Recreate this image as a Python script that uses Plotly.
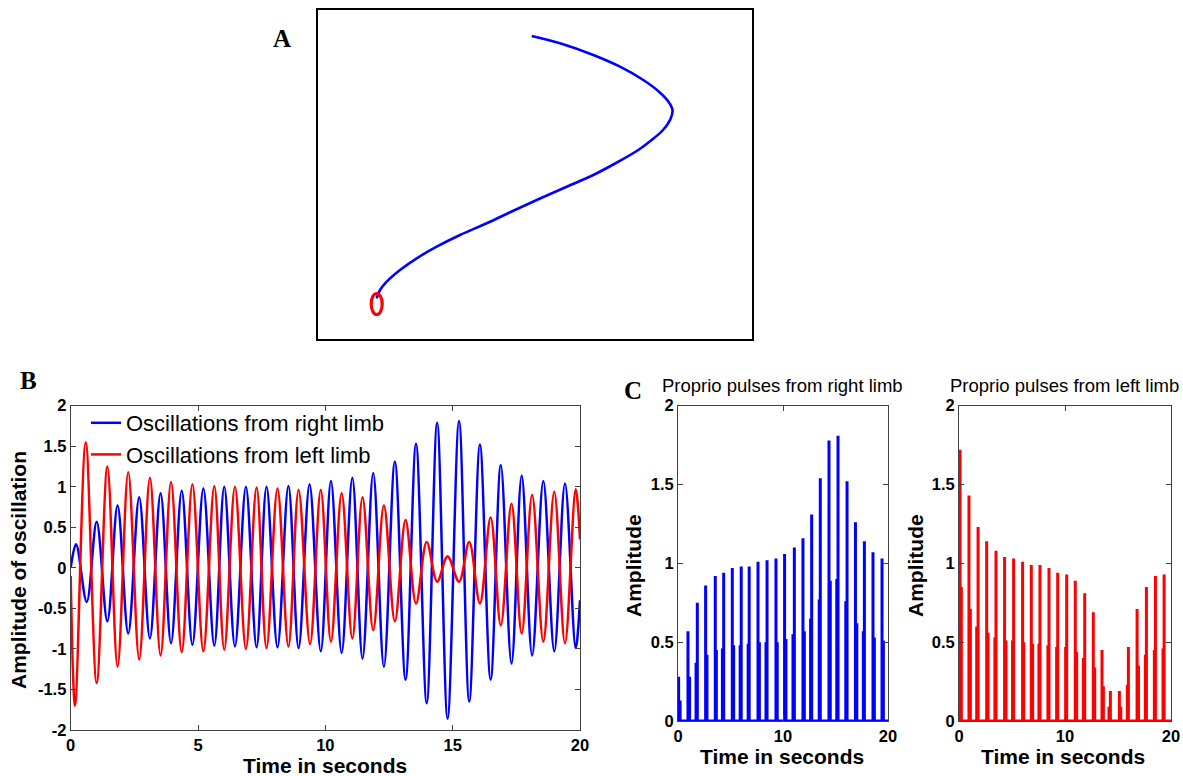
import plotly.graph_objects as go

W, H = 1183, 776

# ---------------- Panel A: limb trajectory (arbitrary planar units) ----------------
traj_x = [213.7, 242.0, 275.3, 302.0, 325.3, 341.0, 350.5, 354.5, 352.5, 345.0, 333.0, 320.3,
          295.3, 275.3, 248.7, 222.0, 195.3, 168.7, 142.0, 118.7, 98.7, 82.0, 68.7, 62.0, 58.7]
traj_y = [303.0, 295.7, 284.0, 272.3, 259.0, 247.3, 237.3, 229.0, 220.0, 209.0, 198.5, 189.0,
          174.5, 164.0, 152.3, 140.5, 128.3, 115.7, 104.0, 92.3, 80.7, 69.0, 57.3, 49.0, 40.7]
start_marker = dict(cx=58.7, cy=35.0, rx=5.5, ry=10.5)

# ---------------- Panel B: oscillations (peaks / troughs) ----------------
right_t = [0, 0.21, 0.63, 1.02, 1.44, 1.84, 2.26, 2.69, 3.11, 3.53, 3.94, 4.36, 4.78, 5.21,
           5.64, 6.03, 6.45, 6.88, 7.3, 7.69, 8.12, 8.55, 8.95, 9.38, 9.82, 10.22, 10.64,
           11.06, 11.46, 11.88, 12.3, 12.73, 13.15, 13.56, 13.98, 14.39, 14.8, 15.25, 15.65,
           16.07, 16.49, 16.89, 17.31, 17.71, 18.12, 18.56, 18.99, 19.41, 19.83, 20]
right_v = [0, 0.29, -0.42, 0.57, -0.66, 0.77, -0.81, 0.87, -0.87, 0.92, -0.93, 0.95, -0.95,
           0.98, -0.96, 1.0, -0.97, 1.0, -0.98, 1.0, -0.98, 1.01, -0.99, 1.03, -1.03, 1.07,
           -1.05, 1.11, -1.12, 1.17, -1.22, 1.31, -1.38, 1.53, -1.67, 1.79, -1.86, 1.81,
           -1.65, 1.52, -1.38, 1.27, -1.18, 1.14, -1.08, 1.07, -1.03, 1.04, -0.99, -0.4]
left_t = [0, 0.17, 0.59, 1.02, 1.44, 1.84, 2.26, 2.69, 3.11, 3.53, 3.94, 4.36, 4.78, 5.21,
          5.64, 6.03, 6.45, 6.88, 7.3, 7.69, 8.12, 8.55, 8.95, 9.4, 9.82, 10.22, 10.64,
          11.06, 11.46, 11.88, 12.3, 12.73, 13.15, 13.56, 13.98, 14.39, 14.8, 15.25, 15.65,
          16.07, 16.49, 16.89, 17.31, 17.71, 18.12, 18.56, 18.99, 19.41, 19.83, 20]
left_v = [-0.1, -1.70, 1.55, -1.42, 1.25, -1.22, 1.18, -1.13, 1.11, -1.08, 1.06, -1.04, 1.03,
          -1.03, 1.01, -1.01, 1.0, -1.0, 0.99, -0.99, 0.98, -0.97, 0.96, -0.94, 0.96, -0.91,
          0.92, -0.87, 0.87, -0.77, 0.77, -0.66, 0.59, -0.44, 0.32, -0.17, 0.14, -0.17, 0.32,
          -0.44, 0.62, -0.71, 0.79, -0.81, 0.90, -0.91, 0.94, -0.93, 0.97, 0.35]

# ---------------- Panel C: proprioceptive pulses ----------------
rp_t = [0.06, 0.95, 1.84, 2.63, 3.55, 4.35, 5.17, 6.02, 6.78, 7.62, 8.48, 9.33, 10.15, 11.08,
        11.9, 12.73, 13.55, 14.38, 15.24, 16.1, 16.9, 17.75, 18.57, 19.43]
rp_a = [0.28, 0.57, 0.75, 0.86, 0.92, 0.94, 0.97, 0.98, 0.98, 1.01, 1.02, 1.03, 1.06, 1.10,
        1.16, 1.31, 1.54, 1.78, 1.81, 1.52, 1.26, 1.14, 1.07, 1.03]
rh_t = [0.2, 1.1, 1.72, 2.76, 3.65, 4.23, 5.3, 5.92, 6.68, 7.75, 8.38, 9.45, 10.28, 10.95,
        12.03, 12.63, 13.45, 14.5, 15.12, 15.98, 17.03, 17.65, 18.7, 19.56]
rh_a = [0.13, 0.28, 0.37, 0.42, 0.45, 0.46, 0.48, 0.48, 0.49, 0.50, 0.50, 0.50, 0.52, 0.55,
        0.57, 0.65, 0.77, 0.89, 0.90, 0.76, 0.62, 0.57, 0.53, 0.51]

lp_t = [0.1, 0.94, 1.8, 2.61, 3.49, 4.3, 5.15, 6.0, 6.82, 7.64, 8.49, 9.31, 10.16, 10.97,
        11.86, 12.67, 13.49, 14.28, 15.13, 15.98, 16.8, 17.68, 18.53, 19.35]
lp_a = [1.72, 1.43, 1.23, 1.14, 1.08, 1.04, 1.03, 1.01, 0.99, 0.99, 0.97, 0.94, 0.93, 0.89,
        0.81, 0.69, 0.45, 0.19, 0.19, 0.47, 0.71, 0.85, 0.92, 0.93]
lh_t = [0.22, 1.07, 1.67, 2.74, 3.39, 4.43, 5.05, 6.1, 6.95, 7.54, 8.39, 9.21, 10.06, 11.1,
        11.73, 12.8, 13.62, 14.15, 15.26, 15.88, 16.93, 17.58, 18.43, 19.25]
lh_a = [0.85, 0.71, 0.60, 0.56, 0.53, 0.51, 0.51, 0.50, 0.49, 0.49, 0.48, 0.47, 0.47, 0.44,
        0.40, 0.34, 0.22, 0.09, 0.09, 0.23, 0.35, 0.42, 0.45, 0.46]

# tick labels
b_xticks = [0, 5, 10, 15, 20]
b_yticks = [-2, -1.5, -1, -0.5, 0, 0.5, 1, 1.5, 2]
c_xticks = [0, 10, 20]
c_yticks = [0, 0.5, 1, 1.5, 2]

BLUE = "#0000ff"
RED = "#ff0000"
AXC = "#404040"
FONT = "Liberation Sans, Arial, sans-serif"


def pulse_xy(ts, amps, hts, hamps):
    events = sorted(list(zip(ts, amps)) + list(zip(hts, hamps)))
    xs, ys = [0], [0]
    for t, a in events:
        xs += [t, t, t]
        ys += [0, a, 0]
    xs.append(20)
    ys.append(0)
    return xs, ys


def lab(v):
    return "<b>%g</b>" % v


def dx(p):
    return p / W


def dy(p):
    return 1 - p / H


fig = go.Figure()

# Panel A
fig.add_trace(go.Scatter(x=traj_x, y=traj_y, mode="lines",
                         line=dict(color=BLUE, width=2.6, shape="spline", smoothing=1.0),
                         showlegend=False, xaxis="x", yaxis="y"))
fig.add_shape(type="circle", xref="x", yref="y",
              x0=start_marker["cx"] - start_marker["rx"], x1=start_marker["cx"] + start_marker["rx"],
              y0=start_marker["cy"] - start_marker["ry"], y1=start_marker["cy"] + start_marker["ry"],
              line=dict(color=RED, width=3.2))

# Panel B
fig.add_trace(go.Scatter(x=right_t, y=right_v, mode="lines", name="Oscillations from right limb",
                         line=dict(color=BLUE, width=2.5, shape="spline", smoothing=1.0),
                         xaxis="x2", yaxis="y2"))
fig.add_trace(go.Scatter(x=left_t, y=left_v, mode="lines", name="Oscillations from left limb",
                         line=dict(color=RED, width=2.5, shape="spline", smoothing=1.0),
                         xaxis="x2", yaxis="y2"))

# Panel C
rx, ry = pulse_xy(rp_t, rp_a, rh_t, rh_a)
fig.add_trace(go.Scatter(x=rx, y=ry, mode="lines", line=dict(color=BLUE, width=3),
                         showlegend=False, xaxis="x3", yaxis="y3"))
lx, ly = pulse_xy(lp_t, lp_a, lh_t, lh_a)
fig.add_trace(go.Scatter(x=lx, y=ly, mode="lines", line=dict(color=RED, width=3),
                         showlegend=False, xaxis="x4", yaxis="y4"))

tickfont = dict(family=FONT, size=16.5, color="black", weight="bold")
common = dict(showline=True, linecolor=AXC, linewidth=1, mirror="ticks", ticks="inside",
              ticklen=5, tickcolor=AXC, tickfont=tickfont, showgrid=False, zeroline=False,
              fixedrange=True, tickmode="array", automargin=False)
hidden = dict(showline=True, linecolor="black", linewidth=1.5, mirror=True,
              showticklabels=False, ticks="", showgrid=False, zeroline=False,
              fixedrange=True, automargin=False)

fig.update_layout(
    width=W, height=H, autosize=False,
    margin=dict(l=0, r=0, t=0, b=0, pad=0, autoexpand=False),
    paper_bgcolor="white", plot_bgcolor="white",
    xaxis=dict(domain=[dx(318), dx(752)], range=[0, 434], **hidden),
    yaxis=dict(domain=[dy(339), dy(10)], range=[0, 329], **hidden),
    xaxis2=dict(domain=[dx(70.7), dx(580)], range=[0, 20], tickvals=b_xticks,
                ticktext=[lab(v) for v in b_xticks], anchor="y2", **common),
    yaxis2=dict(domain=[dy(730), dy(405.7)], range=[-2, 2], tickvals=b_yticks,
                ticktext=[lab(v) for v in b_yticks], anchor="x2", **common),
    xaxis3=dict(domain=[dx(678), dx(888)], range=[0, 20], tickvals=c_xticks,
                ticktext=[lab(v) for v in c_xticks], anchor="y3", **common),
    yaxis3=dict(domain=[dy(721), dy(405.7)], range=[0, 2], tickvals=c_yticks,
                ticktext=[lab(v) for v in c_yticks], anchor="x3", **common),
    xaxis4=dict(domain=[dx(959), dx(1171)], range=[0, 20], tickvals=c_xticks,
                ticktext=[lab(v) for v in c_xticks], anchor="y4", **common),
    yaxis4=dict(domain=[dy(721), dy(405.7)], range=[0, 2], tickvals=c_yticks,
                ticktext=[lab(v) for v in c_yticks], anchor="x4", **common),
    legend=dict(x=dx(86), y=dy(402), xanchor="left", yanchor="top",
                bgcolor="rgba(0,0,0,0)", font=dict(family=FONT, size=22, color="black"),
                tracegroupgap=0, itemwidth=30),
)


def ann(text, x, y, size, bold=True, angle=0, family=FONT):
    fig.add_annotation(text=text, x=dx(x), y=dy(y), xref="paper", yref="paper",
                       xanchor="center", yanchor="middle", showarrow=False, textangle=angle,
                       font=dict(family=family, size=size, color="black",
                                 weight="bold" if bold else "normal"))


SERIF = "Liberation Serif, Times New Roman, serif"
ann("A", 282, 38, 25, family=SERIF)
ann("B", 28, 380, 25, family=SERIF)
ann("C", 633, 390, 25, family=SERIF)

ann("Amplitude of oscillation", 18, 570, 21, angle=-90)
ann("Time in seconds", 325, 765, 21)
ann("Amplitude", 633, 566, 21, angle=-90)
ann("Time in seconds", 782, 756, 21)
ann("Amplitude", 915, 566, 21, angle=-90)
ann("Time in seconds", 1063, 756, 21)
ann("Proprio pulses from right limb", 782, 385, 18.5, bold=False)
ann("Proprio pulses from left limb", 1064, 385, 18.5, bold=False)

fig.write_html("out.html")
